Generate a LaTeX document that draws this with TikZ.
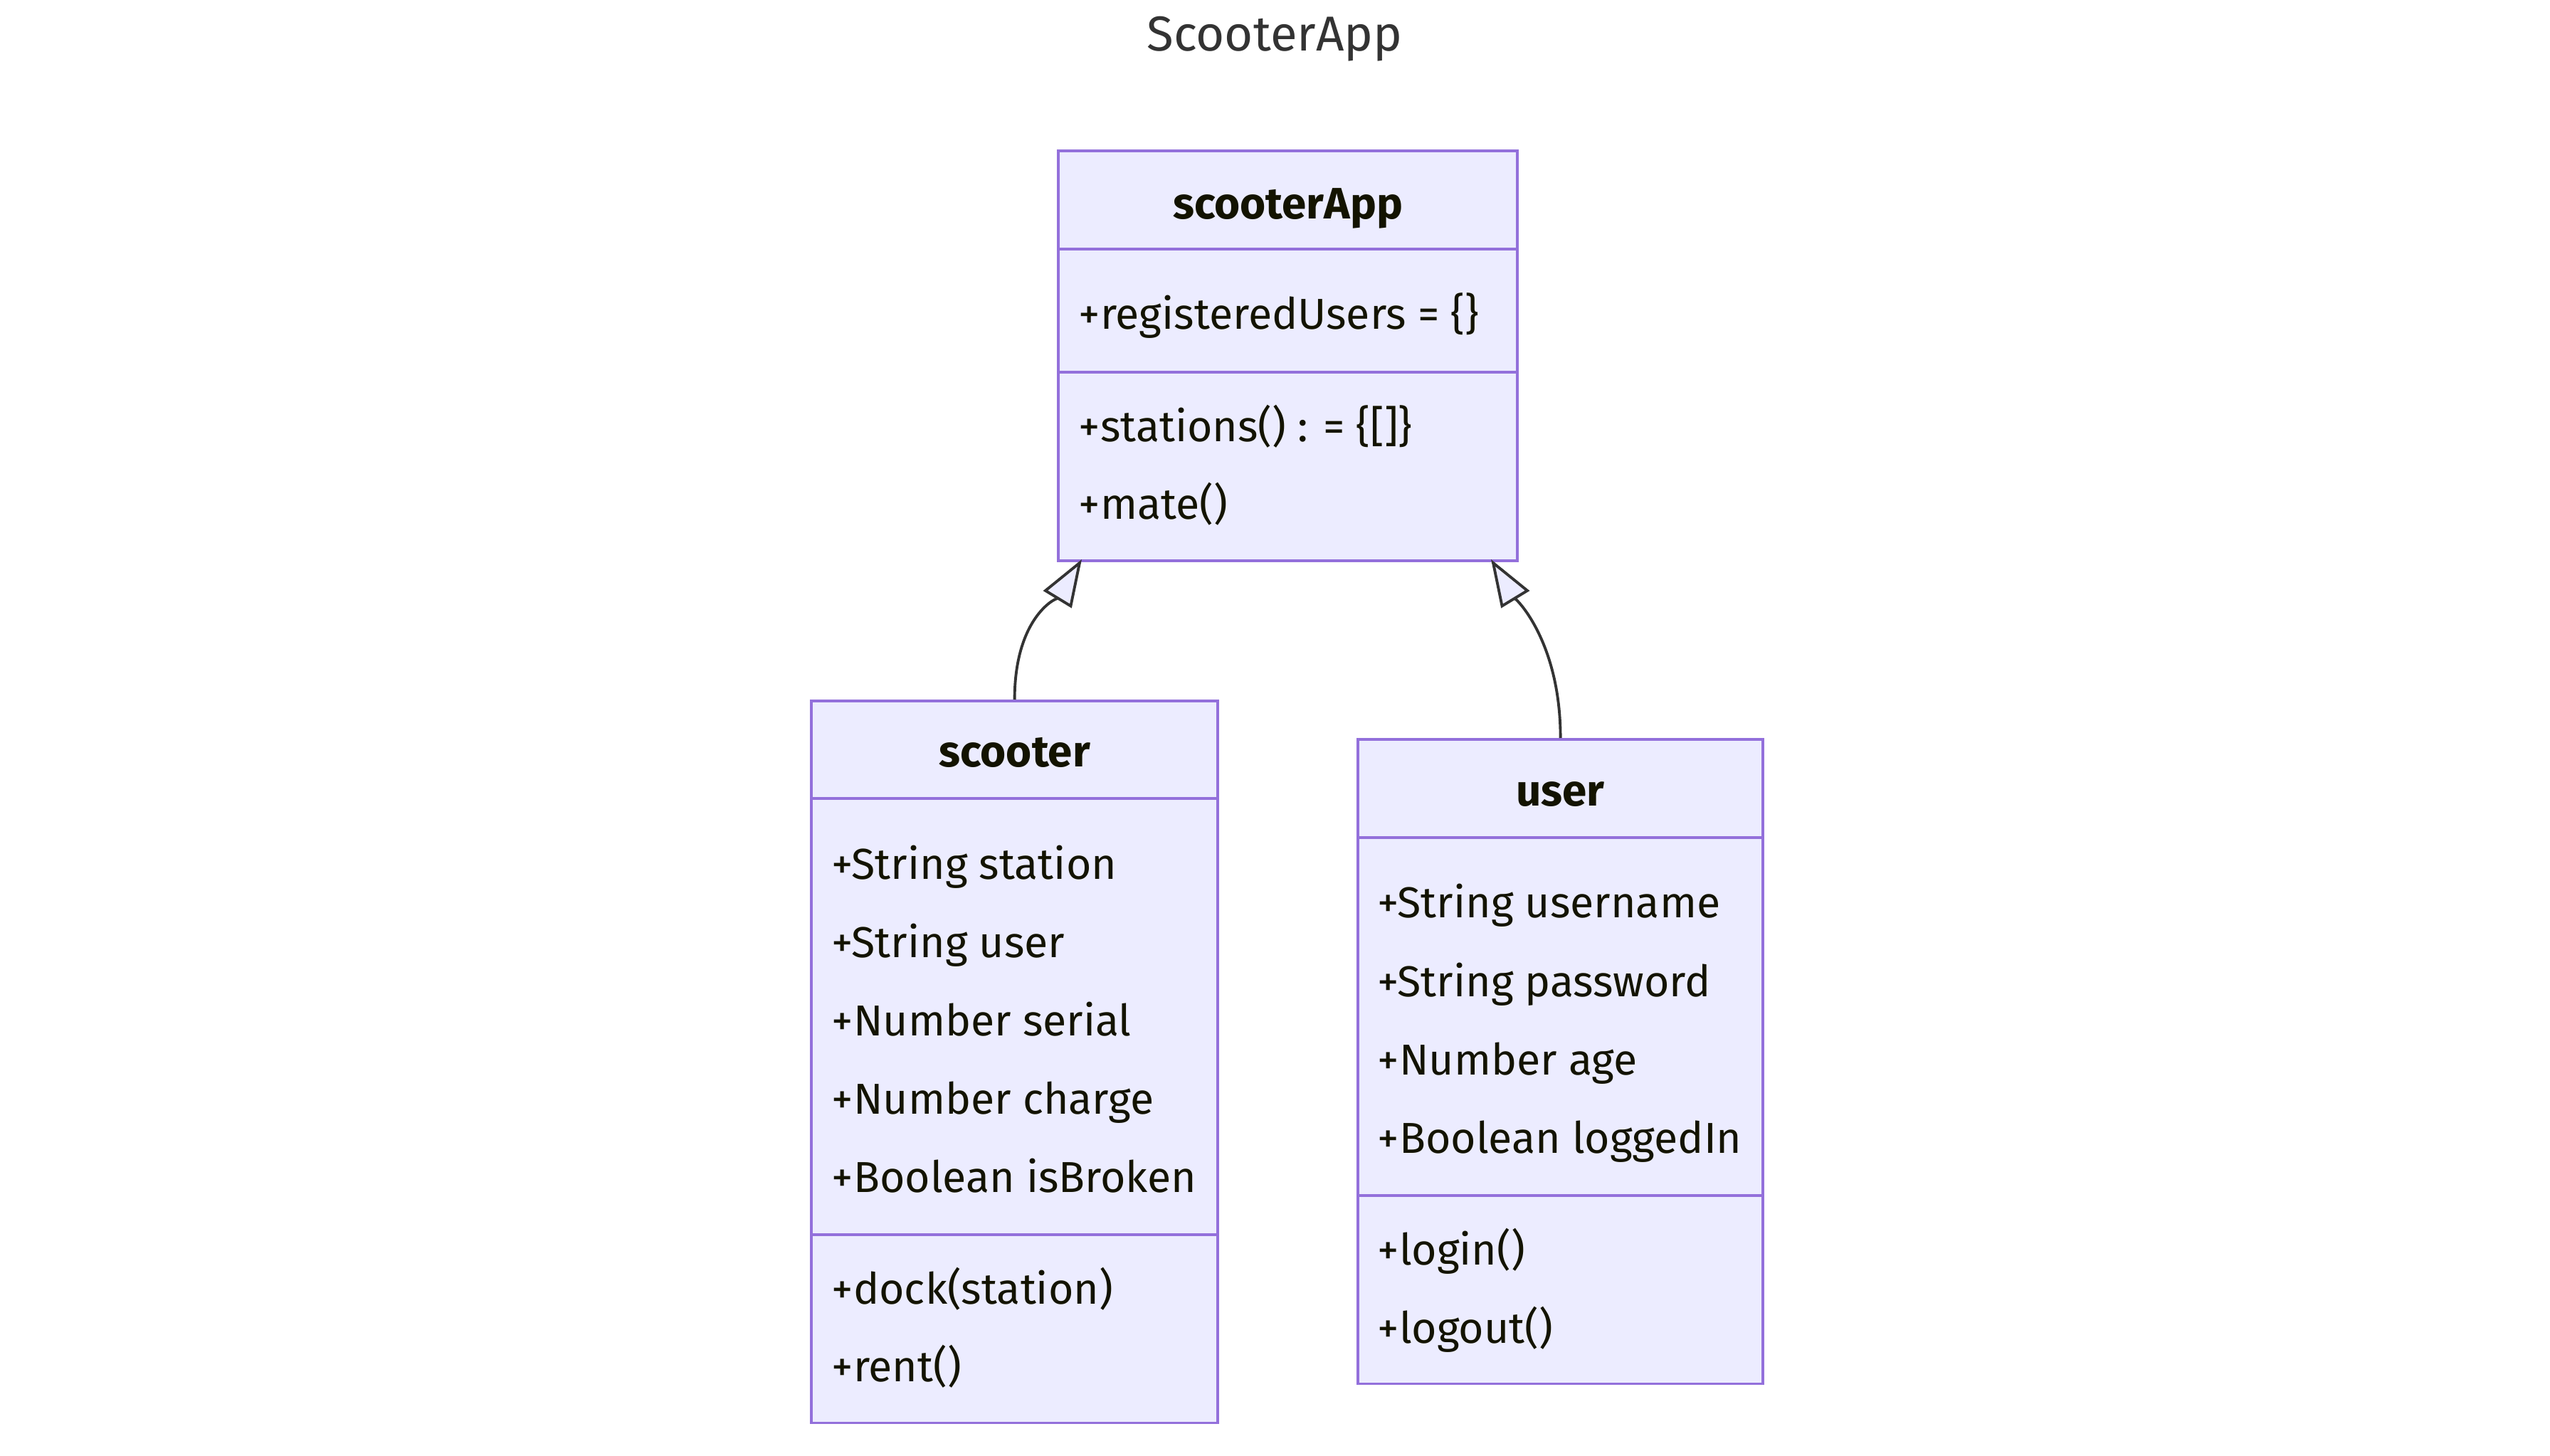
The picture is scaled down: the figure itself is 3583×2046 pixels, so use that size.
\documentclass[tikz,border=0pt]{standalone}
\usepackage{fontspec}
\setmainfont{Fira Sans}
\usetikzlibrary{arrows.meta,calc,positioning}

\definecolor{boxline}{HTML}{9370DB}
\definecolor{boxfill}{HTML}{ECECFF}
\definecolor{edgecol}{HTML}{333333}
\definecolor{txtcol}{HTML}{131300}

\tikzset{
  classbox/.style={draw=boxline, fill=boxfill, line width=1.1pt, inner sep=0pt, anchor=north west},
  sepline/.style={draw=boxline, line width=1.1pt},
  classname/.style={font=\fontsize{17.6pt}{20pt}\selectfont\bfseries, text=txtcol, anchor=base, inner sep=0pt},
  member/.style={font=\fontsize{17.3pt}{20pt}\selectfont, text=txtcol, anchor=base west, inner sep=0pt},
  inherit/.style={draw=edgecol, line width=1.1pt,
    -{Triangle[length=0.66cm, width=0.46cm, fill=boxfill, line join=miter]}},
}

\begin{document}
\begin{tikzpicture}[x=0.01cm, y=-0.01cm]
  \useasboundingbox (0,0) rectangle (3583,2046);
  \fill[white] (0,0) rectangle (3583,2046);

  % title
  \node[font=\fontsize{19.6pt}{22pt}\selectfont, text=edgecol] (title) at (1791,55) {ScooterApp};

  % scooterApp
  \node[classbox, minimum width=6.45cm, minimum height=5.76cm] (app) at (1485,210) {};
  \draw[sepline] (app.west |- 0,350) -- (app.east |- 0,350);
  \draw[sepline] (app.west |- 0,523) -- (app.east |- 0,523);
  \node[classname] (app-name) at (app.center |- 0,308) {scooterApp};
  \node[member] (app-a1) at (1515,463) {+registeredUsers = \{\}};
  \node[member] (app-m1) at (1515,621) {+stations() : = \{[]\}};
  \node[member] (app-m2) at (1515,730) {+mate()};

  % scooter
  \node[classbox, minimum width=5.71cm, minimum height=10.14cm] (scooter) at (1138,983) {};
  \draw[sepline] (scooter.west |- 0,1122) -- (scooter.east |- 0,1122);
  \draw[sepline] (scooter.west |- 0,1735) -- (scooter.east |- 0,1735);
  \node[classname] (scooter-name) at (scooter.center |- 0,1078) {scooter};
  \foreach \txt [count=\k] in {+String station, +String user, +Number serial, +Number charge, +Boolean isBroken}
    \node[member] (scooter-a\k) at (1168,1235+\k*110-110) {\txt};
  \foreach \txt [count=\k] in {+dock(station), +rent()}
    \node[member] (scooter-m\k) at (1168,1832+\k*109-109) {\txt};

  % user
  \node[classbox, minimum width=5.69cm, minimum height=9.05cm] (user) at (1906,1037) {};
  \draw[sepline] (user.west |- 0,1177) -- (user.east |- 0,1177);
  \draw[sepline] (user.west |- 0,1680) -- (user.east |- 0,1680);
  \node[classname] (user-name) at (user.center |- 0,1133) {user};
  \foreach \txt [count=\k] in {+String username, +String password, +Number age, +Boolean loggedIn}
    \node[member] (user-a\k) at (1935,1290+\k*110-110) {\txt};
  \foreach \txt [count=\k] in {+login(), +logout()}
    \node[member] (user-m\k) at (1935,1777+\k*110-110) {\txt};

  % inheritance
  \coordinate (appL) at (1520,786);
  \coordinate (appR) at (2095,786);
  \draw[inherit] (scooter.north) .. controls ($(scooter.north)+(0,-120)$) and ($(appL)+(-31,51)$) .. (appL);
  \draw[inherit] (user.north) .. controls ($(user.north)+(0,-140)$) and ($(appR)+(31,51)$) .. (appR);
\end{tikzpicture}
\end{document}
